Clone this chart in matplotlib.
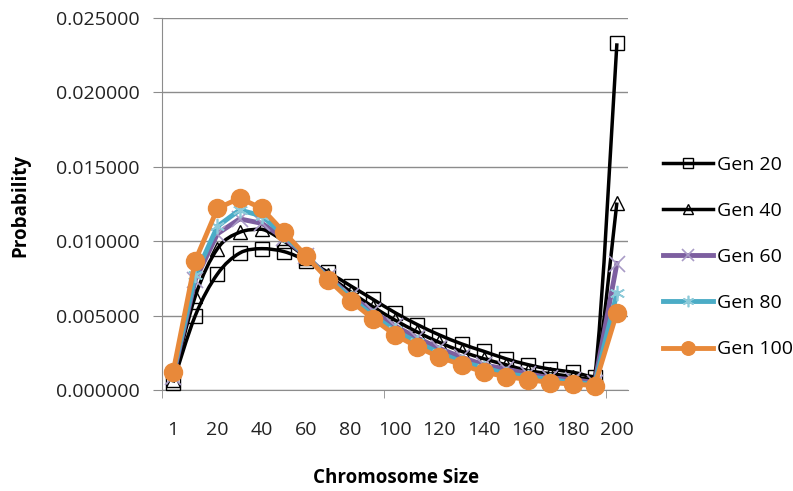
import matplotlib
matplotlib.use("Agg")
import matplotlib.pyplot as plt
from matplotlib.path import Path
from matplotlib.patches import PathPatch
from matplotlib.lines import Line2D
import numpy as np

sizes = [1, 10, 20, 30, 40, 50, 60, 70, 80, 90, 100, 110, 120, 130, 140, 150, 160, 170, 180, 190, 200]
tick_labels = ["1", "20", "40", "60", "80", "100", "120", "140", "160", "180", "200"]

gen20 = [0.0005, 0.0050, 0.0078, 0.0092, 0.0095, 0.0093, 0.0087, 0.0079, 0.0070, 0.0061, 0.0052,
         0.0044, 0.0037, 0.0031, 0.0026, 0.0021, 0.0017, 0.0014, 0.0012, 0.0009, 0.0233]
gen40 = [0.0007, 0.0063, 0.0095, 0.0106, 0.0108, 0.0100, 0.0089, 0.0077, 0.0066, 0.0056, 0.0047,
         0.0039, 0.0032, 0.0026, 0.0021, 0.0017, 0.0013, 0.0011, 0.0009, 0.0007, 0.0126]
gen60 = [0.0009, 0.0074, 0.0105, 0.0115, 0.0112, 0.0102, 0.0090, 0.0076, 0.0063, 0.0053, 0.0043,
         0.0035, 0.0028, 0.0022, 0.0017, 0.0014, 0.0011, 0.0008, 0.0007, 0.0005, 0.0085]
gen80 = [0.0011, 0.0077, 0.0110, 0.0121, 0.0117, 0.0104, 0.0090, 0.0075, 0.0062, 0.0050, 0.0040,
         0.0032, 0.0025, 0.0019, 0.0015, 0.0011, 0.0009, 0.0007, 0.0005, 0.0004, 0.0065]
gen100 = [0.0012, 0.0087, 0.0122, 0.0129, 0.0122, 0.0106, 0.0090, 0.0074, 0.0060, 0.0048, 0.0037,
          0.0029, 0.0022, 0.0017, 0.0012, 0.0009, 0.0007, 0.0005, 0.0004, 0.0003, 0.0052]

series = [
    ("Gen 20", gen20, True, dict(color="black", marker="s", mfc="none", mec="black", ms=10, mew=1.0, lw=2.5)),
    ("Gen 40", gen40, True, dict(color="black", marker="^", mfc="none", mec="black", ms=10, mew=1.0, lw=2.5)),
    ("Gen 60", gen60, False, dict(color="#7D5FA0", marker="x", mec="#A99BC6", ms=11, mew=1.2, lw=3.5)),
    ("Gen 80", gen80, False, dict(color="#4BACC6", marker=(6, 2, 0), mec="#8CCAD9", ms=11, mew=1.2, lw=3.5)),
    ("Gen 100", gen100, False, dict(color="#E8893A", marker="o", mfc="#E8893A", mec="#E8893A", ms=13, lw=3.5)),
]


def smooth_path(xs, ys):
    xs = np.asarray(xs, float)
    ys = np.asarray(ys, float)
    n = len(xs)
    verts = [(xs[0], ys[0])]
    codes = [Path.MOVETO]
    for i in range(n - 1):
        p0 = i - 1 if i > 0 else i
        p3 = i + 2 if i + 2 < n else i + 1
        c1x = xs[i] + (xs[i + 1] - xs[p0]) / 6
        c1y = ys[i] + (ys[i + 1] - ys[p0]) / 6
        c2x = xs[i + 1] - (xs[p3] - xs[i]) / 6
        c2y = ys[i + 1] - (ys[p3] - ys[i]) / 6
        lo, hi = min(ys[i], ys[i + 1]), max(ys[i], ys[i + 1])
        c1y = min(max(c1y, lo), hi)
        c2y = min(max(c2y, lo), hi)
        verts += [(c1x, c1y), (c2x, c2y), (xs[i + 1], ys[i + 1])]
        codes += [Path.CURVE4] * 3
    return Path(verts, codes)


plt.rcParams['font.family'] = ['Open Sans', 'DejaVu Sans']

fig = plt.figure(figsize=(7.93, 4.91), dpi=100)
ax = fig.add_axes([162/793, 1 - 390/491, (628-162)/793, (390-18)/491])

x = np.arange(len(sizes))
handles = []
for name, vals, smooth, st in series:
    if smooth:
        ax.add_patch(PathPatch(smooth_path(x, vals), fill=False, edgecolor=st["color"], lw=st["lw"],
                               clip_on=False, zorder=3))
        mk = {k: v for k, v in st.items() if k not in ("lw",)}
        ax.plot(x, vals, linestyle="none", clip_on=False, zorder=3, **mk)
        h = Line2D([], [], **st)
    else:
        h, = ax.plot(x, vals, **st, clip_on=False, zorder=3)
    h.set_label(name)
    handles.append(h)

ax.set_xlim(-0.5, len(sizes) - 0.5)
ax.set_ylim(0, 0.025)
ax.set_yticks(np.arange(0, 0.02501, 0.005))
ax.set_yticklabels(["%.6f" % v for v in np.arange(0, 0.02501, 0.005)])
ax.yaxis.grid(True, color="#8C8C8C", lw=1.0)
ax.set_axisbelow(True)

ax.set_xticks(x[::2])
ax.set_xticklabels(tick_labels)
ax.set_xticks([-0.5, 9.5, 19.5], minor=True)
ax.tick_params(axis="x", which="major", length=0, pad=22, labelsize=14, labelcolor="#222222")
ax.tick_params(axis="x", which="minor", length=6, color="#8C8C8C", direction="out")
ax.tick_params(axis="y", length=6.5, color="#8C8C8C", pad=9.5, labelsize=14, labelcolor="#222222")

for s in ["top", "right"]:
    ax.spines[s].set_visible(False)
for s in ["left", "bottom"]:
    ax.spines[s].set_color("#8C8C8C")

fig.text(396/793, 1 - 478/491, "Chromosome Size", ha="center", va="center", fontsize=13.5, fontweight="bold")
fig.text(20/793, 1 - 205/491, "Probability", ha="center", va="center", rotation=90, fontsize=13.5, fontweight="bold")

leg = ax.legend(handles=handles, loc="center left", bbox_to_anchor=(655/793, 1 - 257/491),
                bbox_transform=fig.transFigure, frameon=False, fontsize=14, handlelength=2.6,
                handletextpad=0.2, labelspacing=1.45, borderaxespad=0, markerscale=0.75)

fig.savefig("out.png", dpi=100)
